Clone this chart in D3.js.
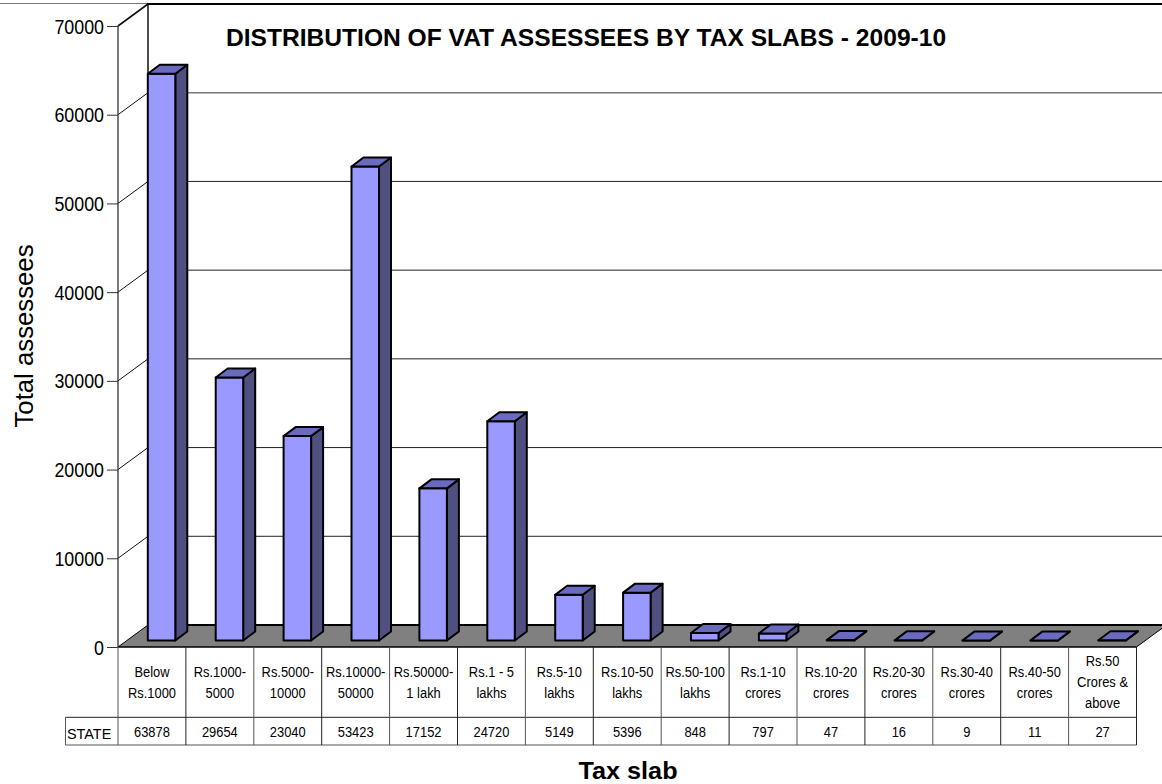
<!DOCTYPE html>
<html><head><meta charset="utf-8">
<script src="https://cdnjs.cloudflare.com/ajax/libs/d3/7.8.5/d3.min.js"></script>
<style>html,body{margin:0;padding:0;background:#fff;overflow:hidden}svg{display:block;font-family:"Liberation Sans",Arial,sans-serif}</style>
</head><body><svg id="c" width="1162" height="784"></svg>
<script>
const categories=[["Below","Rs.1000"],["Rs.1000-","5000"],["Rs.5000-","10000"],["Rs.10000-","50000"],["Rs.50000-","1 lakh"],["Rs.1 - 5","lakhs"],["Rs.5-10","lakhs"],["Rs.10-50","lakhs"],["Rs.50-100","lakhs"],["Rs.1-10","crores"],["Rs.10-20","crores"],["Rs.20-30","crores"],["Rs.30-40","crores"],["Rs.40-50","crores"],["Rs.50","Crores &","above"]];
const values=[63878,29654,23040,53423,17152,24720,5149,5396,848,797,47,16,9,11,27];
const yTicks=[0,10000,20000,30000,40000,50000,60000,70000];
const seriesName="STATE";
const titleText="DISTRIBUTION OF VAT ASSESSEES BY TAX SLABS - 2009-10";
const xTitle="Tax slab", yTitle="Total assessees";

const svg=d3.select("#c");
const y=d3.scaleLinear().domain([0,70000]).range([647,26]);
const idx=d3.range(categories.length);
const x=d3.scaleBand().domain(idx).range([118,1136.5]);
const dx=30,dy=-22;             // depth of the chart box
const W=x.range()[1];
const pts=a=>a.map(p=>p.join(",")).join(" ");
const skew=.89;
function txt(g,s,px,py,size,opt={}){
  return g.append("text").attr("transform",`translate(${px},${py}) ${opt.rot?`rotate(${opt.rot})`:""} scale(${opt.sx||skew},1)`)
   .attr("text-anchor",opt.anchor||"middle").attr("font-size",size).attr("font-weight",opt.bold?"bold":null).attr("fill","#000").text(s);
}
// outer line
svg.append("line").attr("x1",0).attr("x2",148).attr("y1",3.5).attr("y2",3.5).attr("stroke","#777").attr("stroke-width",1);
// walls
const G=svg.append("g");
yTicks.slice(1).forEach(t=>{
  const yy=y(t);
  G.append("line").attr("x1",118).attr("y1",yy).attr("x2",118+dx).attr("y2",yy+dy).attr("stroke","#111").attr("stroke-width",t===70000?1.6:1);
  if(t<70000) G.append("line").attr("x1",118+dx).attr("x2",1162).attr("y1",yy+dy).attr("y2",yy+dy).attr("stroke",t===60000?"#777":"#222").attr("stroke-width",t===60000?1.6:1);
});
G.append("line").attr("x1",147).attr("x2",1162).attr("y1",y(70000)+dy).attr("y2",y(70000)+dy).attr("stroke","#000").attr("stroke-width",2);
G.append("line").attr("x1",148).attr("x2",148).attr("y1",y(70000)+dy).attr("y2",y(0)+dy).attr("stroke","#000").attr("stroke-width",1.4);
G.append("line").attr("x1",118).attr("x2",118).attr("y1",y(70000)).attr("y2",y(0)).attr("stroke","#222").attr("stroke-width",1.2);
// floor
G.append("polygon").attr("points",pts([[118,y(0)],[118+dx,y(0)+dy],[W+dx,y(0)+dy],[W,y(0)]])).attr("fill","#808080").attr("stroke","none");
G.append("line").attr("x1",118).attr("y1",y(0)).attr("x2",118+dx).attr("y2",y(0)+dy).attr("stroke","#000").attr("stroke-width",1);
G.append("line").attr("x1",148).attr("x2",W+dx).attr("y1",y(0)+dy).attr("y2",y(0)+dy).attr("stroke","#000").attr("stroke-width",2);
G.append("line").attr("x1",W).attr("y1",y(0)).attr("x2",W+dx).attr("y2",y(0)+dy).attr("stroke","#000").attr("stroke-width",1);
// ticks
const ax=svg.append("g").attr("transform","translate(118,0)").call(d3.axisLeft(y).tickValues(yTicks).tickSize(11).tickSizeOuter(0).tickFormat(d3.format("d")));
ax.select(".domain").remove();
ax.selectAll(".tick line").attr("stroke","#333").attr("stroke-width",1);
ax.selectAll(".tick text").attr("font-size",21).attr("font-family",'"Liberation Sans",Arial,sans-serif').attr("fill","#000").attr("x",0).attr("dy",0)
  .attr("text-anchor","end").attr("transform",`translate(-14,7) scale(.85,1)`);
// bars
const bw=27.5,ox=9.6,oy=-6.5,bx=12,by=-9;
const B=svg.append("g").attr("stroke","#000").attr("stroke-width",2).attr("stroke-linejoin","round");
idx.forEach(i=>{
  const l=x(i)+(x.bandwidth()-bw)/2+ox, r=l+bw, b=y(0)+oy, t=y(values[i])+oy;
  B.append("polygon").attr("points",pts([[r,b],[r+bx,b+by],[r+bx,t+by],[r,t]])).attr("fill","#4f4f80");
  B.append("rect").attr("x",l).attr("y",t).attr("width",bw).attr("height",Math.max(b-t,0)).attr("fill","#9999ff");
  B.append("polygon").attr("points",pts([[l,t],[l+bx,t+by],[r+bx,t+by],[r,t]])).attr("fill","#6a6abf");
});
// data table
const T=svg.append("g");
const rowTop=y(0),rowMid=717.3,rowBot=745;
T.append("line").attr("x1",118).attr("x2",W).attr("y1",rowTop).attr("y2",rowTop).attr("stroke","#000").attr("stroke-width",1.6);
T.append("line").attr("x1",65.5).attr("x2",W).attr("y1",rowMid).attr("y2",rowMid).attr("stroke","#222");
T.append("line").attr("x1",65.5).attr("x2",W).attr("y1",rowBot).attr("y2",rowBot).attr("stroke","#555");
T.append("line").attr("x1",65.5).attr("x2",65.5).attr("y1",rowMid).attr("y2",rowBot).attr("stroke","#555");
idx.concat(idx.length).forEach(i=>{
  const xx=i<idx.length?x(i):W;
  T.append("line").attr("x1",xx).attr("x2",xx).attr("y1",rowTop).attr("y2",rowBot).attr("stroke",i%2?"#222":"#555");
});
idx.forEach(i=>{
  const cx=x(i)+x.bandwidth()/2, lines=categories[i], lh=21;
  const start=687-(lines.length-1)*lh/2;
  lines.forEach((s,k)=>txt(T,s,cx,start+k*lh,14.5));
  txt(T,d3.format("d")(values[i]),cx,737,14.5);
});
txt(T,seriesName,67,738.5,15,{anchor:"start",sx:.96});
// titles
txt(svg,titleText,586,46,24.6,{bold:true,sx:1});
txt(svg,xTitle,628,778.5,24.5,{bold:true,sx:1.03});
txt(svg,yTitle,33,336,26,{rot:-90,sx:.99});
</script></body></html>
